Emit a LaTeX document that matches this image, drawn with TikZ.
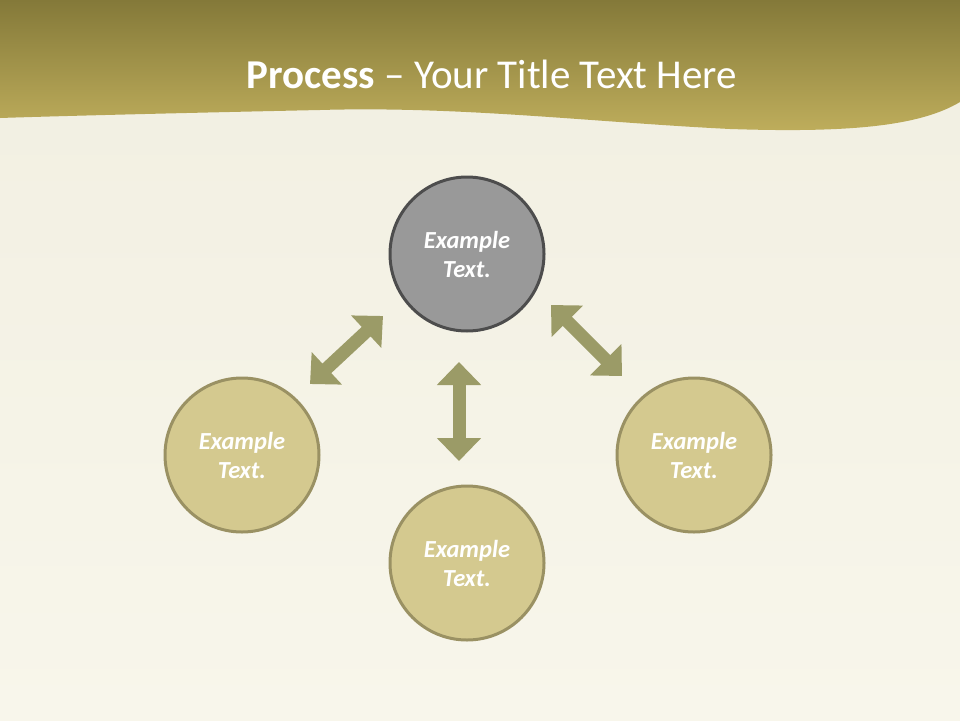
\documentclass[tikz,border=0pt]{standalone}
\usepackage{fontspec}
\setmainfont{Carlito}
\usetikzlibrary{arrows.meta}
\definecolor{bgtop}{HTML}{F1EFE1}
\definecolor{bgbot}{HTML}{F8F6EB}
\definecolor{bandtop}{HTML}{847939}
\definecolor{bandbot}{HTML}{BFAE5C}
\definecolor{graycirc}{HTML}{999999}
\definecolor{grayedge}{HTML}{4D4D4D}
\definecolor{tancirc}{HTML}{D4C98F}
\definecolor{tanedge}{HTML}{9A9163}
\definecolor{arrowc}{HTML}{9B9B67}
\tikzset{
  circ/.style={circle, minimum size=154pt, inner sep=0pt, line width=3pt, align=center,
    text=white, font=\fontsize{24.5}{29}\selectfont\bfseries\itshape},
  graynode/.style={circ, draw=grayedge, fill=graycirc},
  tannode/.style={circ, draw=tanedge, fill=tancirc},
  dblarrow/.style={line width=13pt, draw=arrowc,
    {Triangle[width=43pt,length=23pt]}-{Triangle[width=43pt,length=23pt]}}
}
\begin{document}
\begin{tikzpicture}[x=1pt,y=-1pt]
\useasboundingbox (0,0) rectangle (960,720);
\shade[top color=bgtop, bottom color=bgbot] (0,0) rectangle (960,720);
\shade[top color=bandtop, bottom color=bandbot]
  (0,0) -- (960,0) -- (960,102)
  .. controls (920,126) and (850,133) .. (730,129)
  .. controls (590,122) and (460,106) .. (320,110)
  .. controls (180,113) and (60,116) .. (0,118) -- cycle;
\node[text=white, font=\fontsize{41}{48}\selectfont, anchor=base] (title) at (492,88)
  {\textbf{Process} -- Your Title Text Here};
\node[graynode] (top) at (467,254) {Example\\Text.};
\node[tannode] (left) at (242,455) {Example\\Text.};
\node[tannode] (right) at (694,455) {Example\\Text.};
\node[tannode] (bottom) at (467,563) {Example\\Text.};
\coordinate (la) at (383,316);
\coordinate (lb) at (310,384);
\coordinate (ra) at (551,305);
\coordinate (rb) at (622,376);
\coordinate (va) at (459,362);
\coordinate (vb) at (459,461);
\draw[dblarrow] (la) -- (lb);
\draw[dblarrow] (ra) -- (rb);
\draw[dblarrow] (va) -- (vb);
\end{tikzpicture}
\end{document}
